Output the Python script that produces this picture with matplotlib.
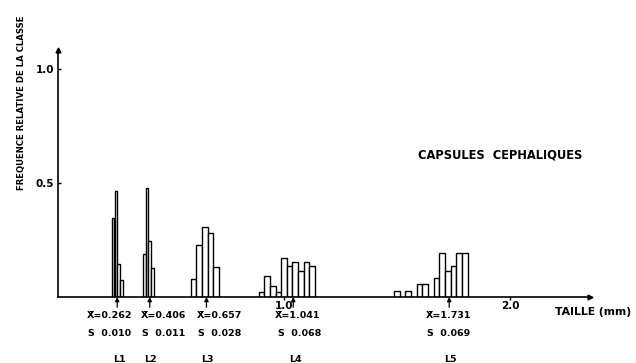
import matplotlib
matplotlib.use("Agg")
import matplotlib.pyplot as plt

# ---- data ----
l1_left = [0.2375, 0.25, 0.2625, 0.275]
l1_freq = [0.345, 0.465, 0.146, 0.073]
l2_left = [0.375, 0.3875, 0.40, 0.4125]
l2_freq = [0.19, 0.477, 0.245, 0.127]
l3_left = [0.5875, 0.6125, 0.6375, 0.6625, 0.6875]
l3_freq = [0.08, 0.23, 0.307, 0.28, 0.132]
l4_left = [0.8875, 0.9125, 0.9375, 0.9625, 0.9875, 1.0125, 1.0375, 1.0625, 1.0875, 1.1125]
l4_freq = [0.02, 0.093, 0.047, 0.023, 0.173, 0.137, 0.155, 0.115, 0.155, 0.137]
l5_left = [1.4875, 1.5375, 1.5875, 1.6125, 1.6625, 1.6875, 1.7125, 1.7375, 1.7625, 1.7875]
l5_freq = [0.025, 0.025, 0.055, 0.055, 0.085, 0.195, 0.115, 0.135, 0.195, 0.195]

small_bin = 0.0125
large_bin = 0.025

means = [0.262, 0.406, 0.657, 1.041, 1.731]
mean_txt = ["0.262", "0.406", "0.657", "1.041", "1.731"]
sd_txt = ["0.010", "0.011", "0.028", "0.068", "0.069"]
stage = ["L1", "L2", "L3", "L4", "L5"]

x_ticks = [1.0, 2.0]
x_ticklabels = ["1.0", "2.0"]
y_ticks = [0.5, 1.0]
y_ticklabels = ["0.5", "1.0"]

# ---- layout ----
text_x = [0.230, 0.468, 0.716, 1.062, 1.730]
sd_x = [0.230, 0.468, 0.716, 1.070, 1.730]
stage_x = [0.272, 0.410, 0.663, 1.050, 1.738]

W, H = 636, 363
fig = plt.figure(figsize=(W / 100, H / 100), dpi=100)
fig.patch.set_facecolor("white")
x0, x1 = 58, 590
y0, y1 = 297, 50
ax = fig.add_axes([x0 / W, 1 - y0 / H, (x1 - x0) / W, (y0 - y1) / H])
xmax = (x1 - x0) / 226.0
ymax = (y0 - y1) / 228.0
ax.set_xlim(0, xmax)
ax.set_ylim(0, ymax)

FONT = "DejaVu Sans"
bar_kw = dict(align="edge", facecolor="white", edgecolor="black", linewidth=1.0)
ax.bar(l1_left, l1_freq, width=small_bin, **bar_kw)
ax.bar(l2_left, l2_freq, width=small_bin, **bar_kw)
ax.bar(l3_left, l3_freq, width=large_bin, **bar_kw)
ax.bar(l4_left, l4_freq, width=large_bin, **bar_kw)
ax.bar(l5_left, l5_freq, width=large_bin, **bar_kw)

for s in ["top", "right"]:
    ax.spines[s].set_visible(False)
for s in ["left", "bottom"]:
    ax.spines[s].set_linewidth(1.2)
    ax.spines[s].set_color("black")
ax.plot(1, 0, ">", color="black", markersize=3.5, transform=ax.transAxes, clip_on=False)
ax.plot(0, 1, "^", color="black", markersize=3.5, transform=ax.transAxes, clip_on=False)

ax.set_xticks(x_ticks)
ax.set_xticklabels(x_ticklabels, fontfamily=FONT, fontweight="bold", fontsize=7.5)
ax.set_yticks(y_ticks)
ax.set_yticklabels(y_ticklabels, fontfamily=FONT, fontweight="bold", fontsize=7.5)
ax.tick_params(axis="x", direction="out", length=2, width=1, pad=1)
ax.tick_params(axis="y", direction="in", length=2, width=1, pad=3)

# arrows at means
for m in means:
    ax.annotate("", xy=(m, 0), xytext=(m, -0.045), xycoords="data",
                arrowprops=dict(arrowstyle="-|>", color="black", lw=0.9, mutation_scale=6,
                                shrinkA=0, shrinkB=0),
                annotation_clip=False)

tk = dict(fontfamily=FONT, fontweight="bold", fontsize=6.8, ha="center", va="center",
          clip_on=False)
for i in range(len(means)):
    ax.text(text_x[i], -0.079, "X\u0304=" + mean_txt[i], **tk)
    ax.text(sd_x[i], -0.162, "S  " + sd_txt[i], **tk)
    ax.text(stage_x[i], -0.272, stage[i], **tk)

fig.text(418 / W, 1 - 155 / H, "CAPSULES  CEPHALIQUES", fontfamily=FONT,
         fontweight="bold", fontsize=8.3, ha="left", va="center")
fig.text(555 / W, 1 - 312 / H, "TAILLE (mm)", fontfamily=FONT,
         fontweight="bold", fontsize=7.8, ha="left", va="center")
fig.text(22 / W, 1 - 103 / H, "FREQUENCE RELATIVE DE LA CLASSE", fontfamily=FONT,
         fontweight="bold", fontsize=6.1, ha="center", va="center", rotation=90)

fig.savefig("out.png", dpi=100, facecolor="white")
